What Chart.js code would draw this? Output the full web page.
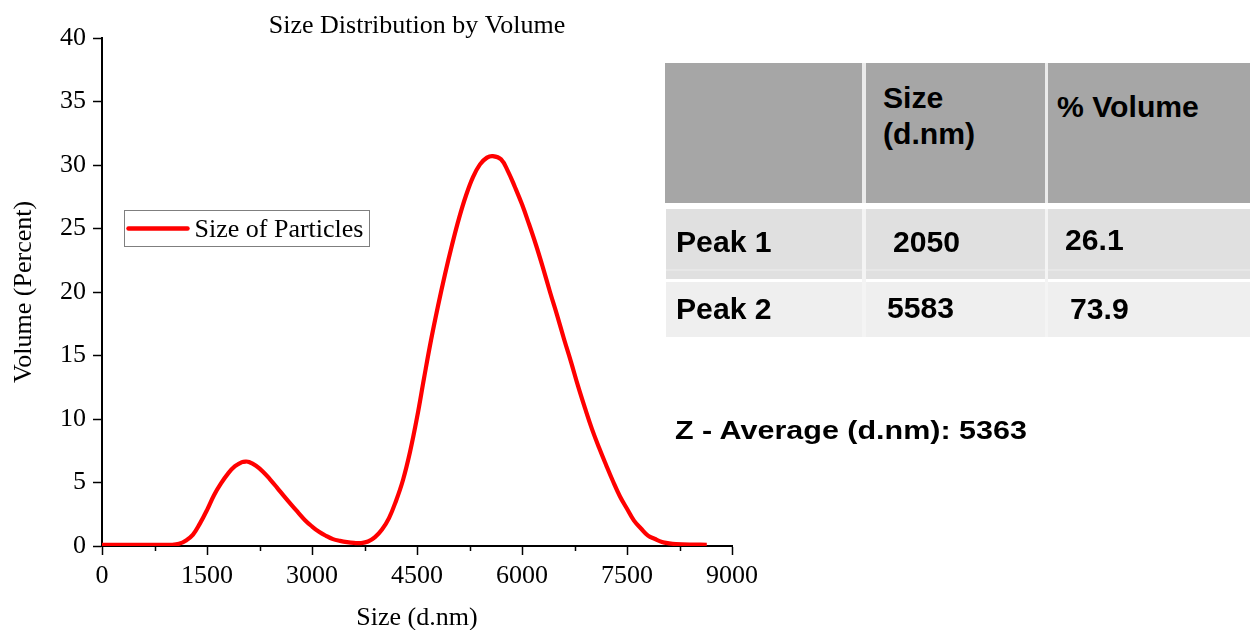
<!DOCTYPE html>
<html>
<head>
<meta charset="utf-8">
<script src="https://cdn.jsdelivr.net/npm/chart.js@4.4.1/dist/chart.umd.min.js"></script>
<style>
  html, body { margin: 0; padding: 0; background: #ffffff; }
  #wrap { position: relative; width: 1250px; height: 630px; overflow: hidden; background: #ffffff; }
  #chart { position: absolute; left: 0; top: 0; }
  .cell { position: absolute; }
  .txt {
    position: absolute; white-space: nowrap; color: #000;
    font-family: "Liberation Sans", Arial, sans-serif; font-weight: bold;
    font-size: 29px; line-height: 29px;
    transform: scaleX(1.04); transform-origin: 0 0;
  }
  #zavg { font-size: 25px; line-height: 25px; transform: scaleX(1.22); transform-origin: 0 0; }
</style>
</head>
<body>
<div id="wrap">
  <canvas id="chart" width="1250" height="630"></canvas>

  <!-- summary table -->
  <div class="cell" style="left:665px;top:63px;width:600px;height:140px;background:#a6a6a6;"></div>
  <div class="cell" style="left:862px;top:63px;width:4px;height:140px;background:#ebebeb;"></div>
  <div class="cell" style="left:1045px;top:63px;width:3px;height:140px;background:#ebebeb;"></div>

  <div class="cell" style="left:666px;top:209px;width:600px;height:70px;background:#e0e0e0;"></div>
  <div class="cell" style="left:666px;top:269px;width:600px;height:2px;background:#e7e7e7;"></div>
  <div class="cell" style="left:666px;top:282px;width:600px;height:55px;background:#efefef;"></div>
  <div class="cell" style="left:862px;top:209px;width:4px;height:128px;background:#f4f4f4;"></div>
  <div class="cell" style="left:1045px;top:209px;width:3px;height:128px;background:#f4f4f4;"></div>

  <div class="txt" style="left:883px;top:84px;">Size</div>
  <div class="txt" style="left:883px;top:120px;">(d.nm)</div>
  <div class="txt" style="left:1057px;top:93px;">% Volume</div>

  <div class="txt" style="left:676px;top:228px;">Peak 1</div>
  <div class="txt" style="left:893px;top:228px;">2050</div>
  <div class="txt" style="left:1065px;top:226px;">26.1</div>

  <div class="txt" style="left:676px;top:295px;">Peak 2</div>
  <div class="txt" style="left:887px;top:294px;">5583</div>
  <div class="txt" style="left:1070px;top:295px;">73.9</div>

  <div class="txt" id="zavg" style="left:675px;top:418px;">Z - Average (d.nm): 5363</div>
</div>

<script>
// Particle size (d.nm) and volume distribution (%)
const sizes = [0, 500, 1000, 1100, 1200, 1300, 1400, 1500, 1600, 1700, 1800, 1900, 2000, 2050, 2100,
  2200, 2300, 2400, 2500, 2600, 2700, 2800, 2900, 3000, 3100, 3200, 3300, 3400, 3500, 3600, 3700,
  3800, 3900, 4000, 4100, 4200, 4300, 4400, 4500, 4600, 4700, 4800, 4900, 5000, 5100, 5200, 5300,
  5400, 5500, 5583, 5700, 5800, 5900, 6000, 6100, 6200, 6300, 6400, 6500, 6600, 6700, 6800, 6900,
  7000, 7100, 7200, 7300, 7400, 7500, 7600, 7700, 7800, 7900, 8000, 8100, 8200, 8400, 8640];
const volumes = [0.1, 0.1, 0.1, 0.17, 0.44, 0.9, 1.78, 2.83, 4.0, 4.93, 5.7, 6.28, 6.6, 6.65, 6.62,
  6.32, 5.85, 5.25, 4.6, 3.93, 3.28, 2.65, 2.03, 1.54, 1.12, 0.8, 0.54, 0.4, 0.3, 0.24, 0.23,
  0.35, 0.7, 1.3, 2.2, 3.55, 5.2, 7.4, 10.1, 13.2, 16.2, 18.9, 21.4, 23.7, 25.8, 27.6, 29.05,
  30.05, 30.58, 30.7, 30.45, 29.5, 28.25, 26.9, 25.35, 23.7, 21.9, 20.0, 18.2, 16.3, 14.5, 12.6, 10.85,
  9.2, 7.75, 6.4, 5.1, 3.9, 2.93, 2.0, 1.38, 0.82, 0.55, 0.32, 0.21, 0.15, 0.11, 0.1];

const xTickValues = [0, 1500, 3000, 4500, 6000, 7500, 9000];
const xMinorTickValues = [750, 2250, 3750, 5250, 6750, 8250];
const yTickValues = [0, 5, 10, 15, 20, 25, 30, 35, 40];

const serif = '"Liberation Serif", "Times New Roman", serif';

// short minor ticks between labelled x ticks
const minorTicks = {
  id: 'minorTicks',
  afterDraw(chart) {
    const xs = chart.scales.x;
    const c = chart.ctx;
    c.save();
    c.strokeStyle = '#000';
    c.lineWidth = 1.5;
    xMinorTickValues.forEach(v => {
      const px = Math.round(xs.getPixelForValue(v)) + 0.5;
      c.beginPath();
      c.moveTo(px, xs.top);
      c.lineTo(px, xs.top + 5);
      c.stroke();
    });
    c.restore();
  }
};

// boxed legend inside the plot area
const boxLegend = {
  id: 'boxLegend',
  afterDraw(chart) {
    const a = chart.chartArea;
    const ds = chart.data.datasets[0];
    const c = chart.ctx;
    const x0 = a.left + 22.5, y0 = a.top + 172.5, w = 245, h = 36;
    c.save();
    c.strokeStyle = '#7f7f7f';
    c.lineWidth = 1;
    c.strokeRect(x0, y0, w, h);
    c.strokeStyle = ds.borderColor;
    c.lineWidth = 4.5;
    c.lineCap = 'round';
    c.beginPath();
    c.moveTo(x0 + 4, y0 + 18);
    c.lineTo(x0 + 63, y0 + 18);
    c.stroke();
    c.fillStyle = '#000';
    c.font = '26px ' + serif;
    c.textBaseline = 'alphabetic';
    c.textAlign = 'left';
    c.fillText(ds.label, x0 + 70, y0 + 26.5);
    c.restore();
  }
};

new Chart(document.getElementById('chart'), {
  type: 'line',
  data: {
    datasets: [{
      label: 'Size of Particles',
      data: sizes.map((s, i) => ({ x: s, y: volumes[i] })),
      borderColor: '#ff0000',
      borderWidth: 4.2,
      pointRadius: 0,
      fill: false,
      tension: 0.4
    }]
  },
  options: {
    responsive: false,
    animation: false,
    layout: { padding: { left: 0, top: 0, right: 518, bottom: 0 } },
    plugins: {
      legend: { display: false },
      tooltip: { enabled: false },
      title: {
        display: true,
        text: 'Size Distribution by Volume',
        color: '#000',
        fullSize: false,
        font: { family: serif, size: 26, weight: 'normal', lineHeight: 1.0 },
        padding: { top: 13, bottom: -1 }
      }
    },
    scales: {
      x: {
        type: 'linear',
        min: 0,
        max: 9000,
        afterBuildTicks(scale) { scale.ticks = xTickValues.map(v => ({ value: v })); },
        afterFit(scale) { scale.height = 84; scale.paddingLeft = 0; scale.paddingRight = 0; },
        ticks: {
          color: '#000',
          font: { family: serif, size: 26 },
          padding: 6,
          maxRotation: 0,
          autoSkip: false,
          callback: v => String(v)
        },
        grid: { display: true, drawOnChartArea: false, drawTicks: true, tickLength: 9, tickColor: '#000', tickWidth: 1.5 },
        border: { display: true, color: '#000', width: 2 },
        title: {
          display: true,
          text: 'Size (d.nm)',
          color: '#000',
          font: { family: serif, size: 26, lineHeight: 0.9 },
          padding: { top: 0, bottom: 0 }
        }
      },
      y: {
        type: 'linear',
        min: 0,
        max: 40,
        afterBuildTicks(scale) { scale.ticks = yTickValues.map(v => ({ value: v })); },
        afterFit(scale) { scale.width = 102; scale.paddingTop = 0; scale.paddingBottom = 0; },
        ticks: {
          color: '#000',
          font: { family: serif, size: 26 },
          padding: 7,
          callback: v => String(v)
        },
        grid: { display: true, drawOnChartArea: false, drawTicks: true, tickLength: 9, tickColor: '#000', tickWidth: 1.5 },
        border: { display: true, color: '#000', width: 2 },
        title: {
          display: true,
          text: 'Volume (Percent)',
          color: '#000',
          font: { family: serif, size: 26, lineHeight: 1.2 },
          padding: { top: 9, bottom: 0 }
        }
      }
    }
  },
  plugins: [minorTicks, boxLegend]
});
</script>
</body>
</html>
